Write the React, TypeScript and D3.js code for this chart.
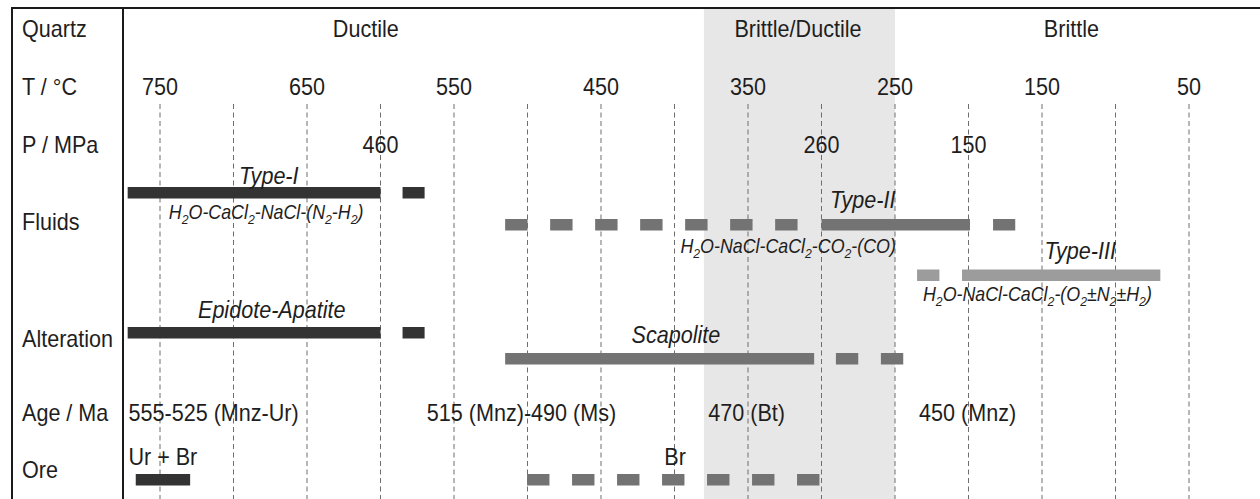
import React from "react";
import * as d3 from "d3";

// ---------- data ----------
const rowLabels = ["Quartz", "T / °C", "P / MPa", "Fluids", "Alteration", "Age / Ma", "Ore"];
const regimes = [
  { name: "Ductile", t: 610 },
  { name: "Brittle/Ductile", t: 316 },
  { name: "Brittle", t: 130 },
];
const transitionZone = [380, 250];
const gridTemps = [750, 700, 650, 600, 550, 500, 450, 400, 350, 300, 250, 200, 150, 100, 50];
const tempTicks = [750, 650, 550, 450, 350, 250, 150, 50];
const pressureTicks = [
  { label: "460", t: 600 },
  { label: "260", t: 300 },
  { label: "150", t: 200 },
];

type Part = [string, number];
const formulaI: Part[] = [["H", 0], ["2", 1], ["O-CaCl", 0], ["2", 1], ["-NaCl-(N", 0], ["2", 1], ["-H", 0], ["2", 1], [")", 0]];
const formulaII: Part[] = [["H", 0], ["2", 1], ["O-NaCl-CaCl", 0], ["2", 1], ["-CO", 0], ["2", 1], ["-(CO)", 0]];
const formulaIII: Part[] = [["H", 0], ["2", 1], ["O-NaCl-CaCl", 0], ["2", 1], ["-(O", 0], ["2", 1], ["±N", 0], ["2", 1], ["±H", 0], ["2", 1], [")", 0]];

const fluids = [
  { name: "Type-I", labelT: 676, formula: formulaI, formulaT: 744, shade: "dark", solid: [[772, 600]], dashed: [[585, 570]] },
  { name: "Type-II", labelT: 272, formula: formulaII, formulaT: 396, shade: "mid", solid: [[300, 199]], dashed: [[515.2, 316], [183.3, 168.2]] },
  { name: "Type-III", labelT: 124, formula: formulaIII, formulaT: 231, shade: "light", solid: [[204.4, 69.5]], dashed: [[235, 219.8]] },
];
const alteration = [
  { name: "Epidote-Apatite", labelT: 674, shade: "dark", solid: [[772, 600]], dashed: [[585, 570]] },
  { name: "Scapolite", labelT: 399, shade: "mid", solid: [[515.2, 305]], dashed: [[290.2, 275], [259.6, 244.4]] },
];
const ages = [
  { label: "555-525 (Mnz-Ur)", t: 771.4 },
  { label: "515 (Mnz)-490 (Ms)", t: 568.5 },
  { label: "470 (Bt)", t: 377 },
  { label: "450 (Mnz)", t: 233.6 },
];
const ore = [
  { name: "Ur + Br", labelT: 771.5, anchor: "start", shade: "dark", solid: [[766.5, 729.5]], dashed: [] as number[][] },
  { name: "Br", labelT: 399.6, anchor: "middle", shade: "mid", solid: [] as number[][], dashed: [[500.3, 300.9]] },
];

// ---------- styles ----------
const COLORS: Record<string, string> = { dark: "#333333", mid: "#737373", light: "#9c9c9c" };
const FONT = "'Liberation Sans', Arial, Helvetica, sans-serif";
const TEXT = "#1e1e1e";
const FS = 23.2;
const SX = 0.93;

const W = 1260;
const H = 499;

function Label({
  x,
  y,
  children,
  anchor = "start",
  italic = false,
}: {
  x: number;
  y: number;
  children: React.ReactNode;
  anchor?: string;
  italic?: boolean;
}) {
  return (
    <text
      transform={`translate(${x},${y}) scale(${SX},1)`}
      textAnchor={anchor as any}
      fontFamily={FONT}
      fontStyle={italic ? "italic" : "normal"}
      fontSize={FS}
      fill={TEXT}
    >
      {children}
    </text>
  );
}

function Formula({ x, y, parts }: { x: number; y: number; parts: Part[] }) {
  let prevSub = 0;
  return (
    <text
      transform={`translate(${x},${y}) scale(0.91,1)`}
      fontFamily={FONT}
      fontStyle="italic"
      fontSize={19.6}
      fill={TEXT}
    >
      {parts.map(([s, sub], i) => {
        const dy = sub === prevSub ? 0 : sub ? 5 : -5;
        prevSub = sub;
        return (
          <tspan key={i} dy={dy} fontSize={sub ? 13.5 : 19.6}>
            {s}
          </tspan>
        );
      })}
    </text>
  );
}

function Bars({ item, x, y, h }: { item: any; x: d3.ScaleLinear<number, number>; y: number; h: number }) {
  const color = COLORS[item.shade];
  return (
    <g>
      {item.solid.map((r: number[], i: number) => (
        <rect key={"s" + i} x={x(r[0])} y={y} width={x(r[1]) - x(r[0])} height={h} fill={color} />
      ))}
      {item.dashed.map((r: number[], i: number) => (
        <line
          key={"d" + i}
          x1={x(r[0])}
          x2={x(r[1])}
          y1={y + h / 2}
          y2={y + h / 2}
          stroke={color}
          strokeWidth={h}
          strokeDasharray="22.4 22.6"
        />
      ))}
    </g>
  );
}

export default function App() {
  const x = d3.scaleLinear().domain([750, 50]).range([160, 1189]);
  const rowY = [36.5, 95, 153, 230, 347, 421, 478];
  const barH = 11.5;

  return (
    <svg
      width={W}
      height={H}
      viewBox={`0 0 ${W} ${H}`}
      style={{ position: "absolute", left: 0, top: 0, background: "#fff" }}
    >
      <rect x={0} y={0} width={W} height={H} fill="#fff" />
      {/* transition zone shading */}
      <rect
        x={x(transitionZone[0])}
        y={9}
        width={x(transitionZone[1]) - x(transitionZone[0])}
        height={H - 9}
        fill="#e7e7e7"
      />
      {/* grid */}
      {gridTemps.map((t) => (
        <line
          key={t}
          x1={x(t)}
          x2={x(t)}
          y1={104}
          y2={H}
          stroke="#6e6e6e"
          strokeWidth={1}
          strokeDasharray="5 3.5"
        />
      ))}
      {/* frame */}
      <line x1={11} x2={W} y1={8} y2={8} stroke="#1a1a1a" strokeWidth={2} />
      <line x1={12} x2={12} y1={7} y2={H} stroke="#1a1a1a" strokeWidth={2} />
      <line x1={123} x2={123} y1={7} y2={H} stroke="#1a1a1a" strokeWidth={2} />

      {/* row labels */}
      {rowLabels.map((l, i) => (
        <Label key={l} x={22} y={rowY[i]}>
          {l}
        </Label>
      ))}

      {/* regimes */}
      {regimes.map((r) => (
        <Label key={r.name} x={x(r.t)} y={36.5} anchor="middle">
          {r.name}
        </Label>
      ))}

      {/* temperature */}
      {tempTicks.map((t) => (
        <Label key={t} x={x(t)} y={95} anchor="middle">
          {t}
        </Label>
      ))}

      {/* pressure */}
      {pressureTicks.map((p) => (
        <Label key={p.label} x={x(p.t)} y={153} anchor="middle">
          {p.label}
        </Label>
      ))}

      {/* fluids */}
      {fluids.map((f, i) => {
        const barY = [187, 219, 269.5][i];
        const labelY = [184, 208, 259][i];
        const formY = [219, 253, 301][i];
        return (
          <g key={f.name}>
            <Bars item={f} x={x} y={barY} h={barH} />
            <Label x={x(f.labelT)} y={labelY} anchor="middle" italic>
              {f.name}
            </Label>
            <Formula x={x(f.formulaT)} y={formY} parts={f.formula} />
          </g>
        );
      })}

      {/* alteration */}
      {alteration.map((a, i) => {
        const barY = [327, 353][i];
        const labelY = [318, 343][i];
        return (
          <g key={a.name}>
            <Bars item={a} x={x} y={barY} h={barH} />
            <Label x={x(a.labelT)} y={labelY} anchor="middle" italic>
              {a.name}
            </Label>
          </g>
        );
      })}

      {/* ages */}
      {ages.map((a) => (
        <Label key={a.label} x={x(a.t)} y={421}>
          {a.label}
        </Label>
      ))}

      {/* ore */}
      {ore.map((o) => (
        <g key={o.name}>
          <Bars item={o} x={x} y={474} h={barH} />
          <Label x={x(o.labelT)} y={465} anchor={o.anchor}>
            {o.name}
          </Label>
        </g>
      ))}
    </svg>
  );
}
